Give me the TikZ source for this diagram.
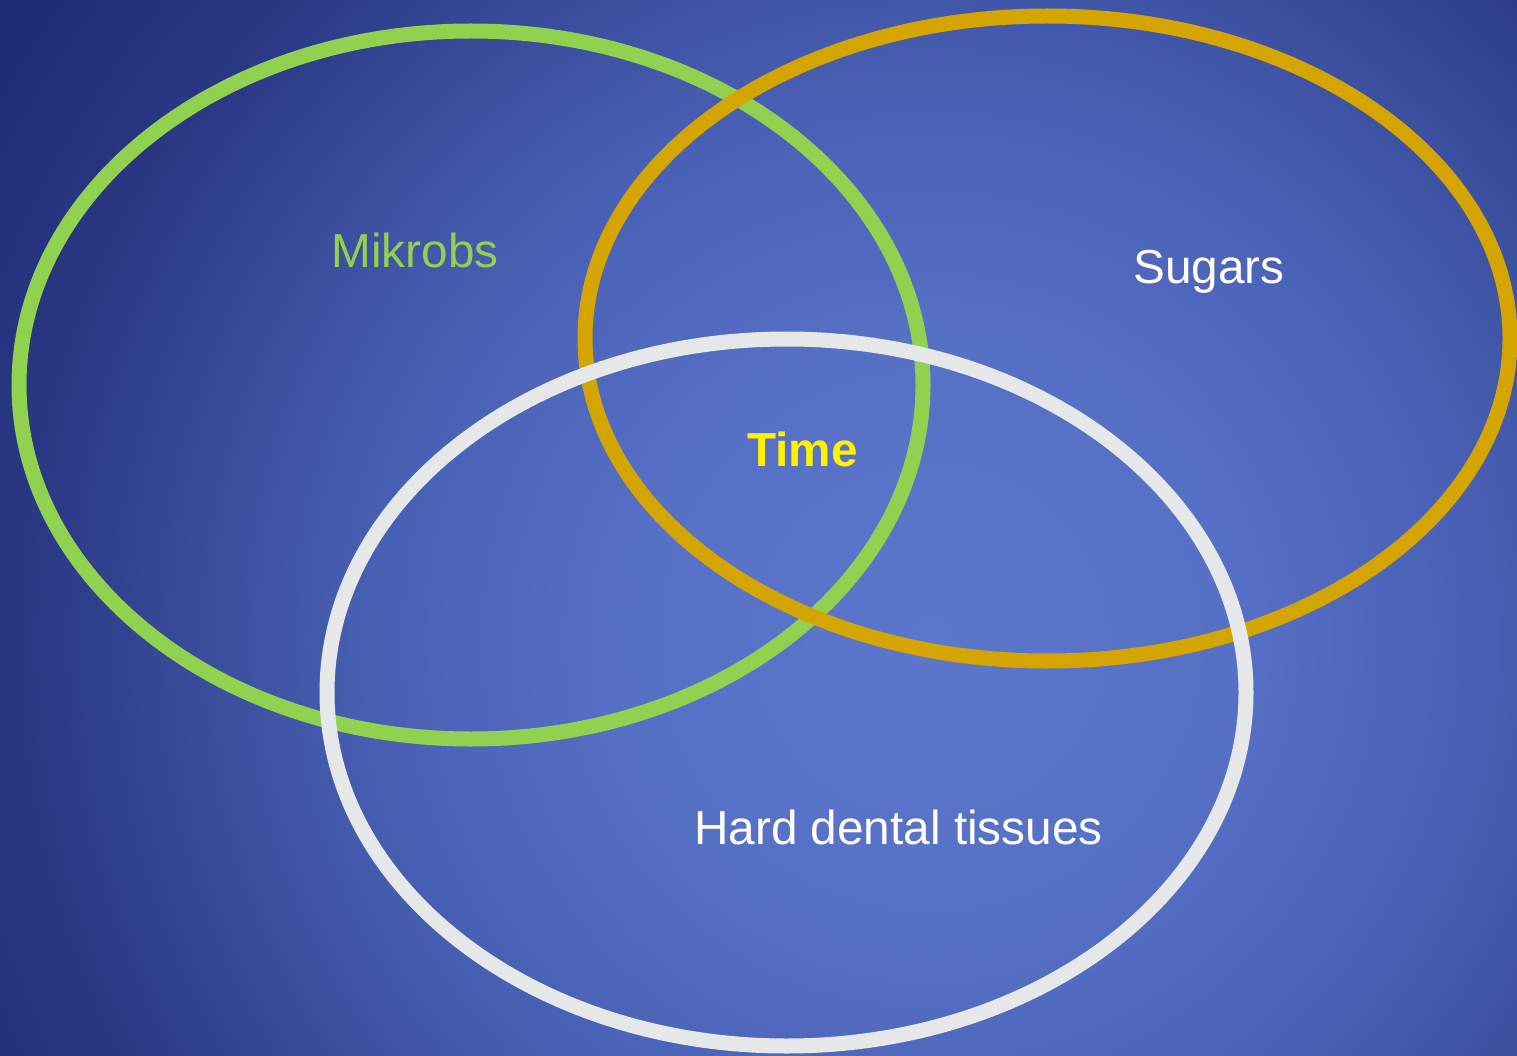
\documentclass[tikz,border=0pt]{standalone}
\usepackage{fontspec}
\setmainfont{Liberation Sans}
\definecolor{cgreen}{HTML}{92D050}
\definecolor{cgold}{HTML}{D4A500}
\definecolor{cwhite}{HTML}{E6E7E8}
\pgfdeclareradialshading{bgshade}{\pgfpoint{0bp}{0bp}}{%
  rgb(0bp)=(0.361,0.463,0.800);
  rgb(300bp)=(0.337,0.439,0.776);
  rgb(550bp)=(0.282,0.376,0.706);
  rgb(700bp)=(0.235,0.314,0.627);
  rgb(800bp)=(0.196,0.267,0.569);
  rgb(900bp)=(0.165,0.220,0.518);
  rgb(1050bp)=(0.133,0.180,0.471);
  rgb(1250bp)=(0.098,0.137,0.420)}
\tikzset{
  ring/.style={line width=15pt},
  lbl/.style={anchor=base, inner sep=0pt, font=\fontsize{47.7}{57}\selectfont}
}
\begin{document}
\begin{tikzpicture}[x=1pt,y=-1pt]
\useasboundingbox (0,0) rectangle (1517,1056);
\begin{scope}
\clip (0,0) rectangle (1517,1056);
\node[inner sep=0pt, outer sep=0pt] (bg) at (930,640) {\pgfuseshading{bgshade}};
\end{scope}
\draw[ring, cgreen] (471,385) ellipse [x radius=452pt, y radius=354pt];
\draw[ring, cgold] (1047.5,338.5) ellipse [x radius=462.5pt, y radius=322.5pt];
\draw[ring, cwhite] (786.5,692.5) ellipse [x radius=459.5pt, y radius=353.5pt];
\node[lbl, text=cgreen] (mik) at (415,268) {Mikrobs};
\node[lbl, text=white] (sug) at (1209,284) {Sugars};
\node[lbl, text=yellow, font=\fontsize{47.7}{57}\selectfont\bfseries] (time) at (802.5,466) {Time};
\node[lbl, text=white] (hard) at (898.5,844) {Hard dental tissues};
\end{tikzpicture}
\end{document}
